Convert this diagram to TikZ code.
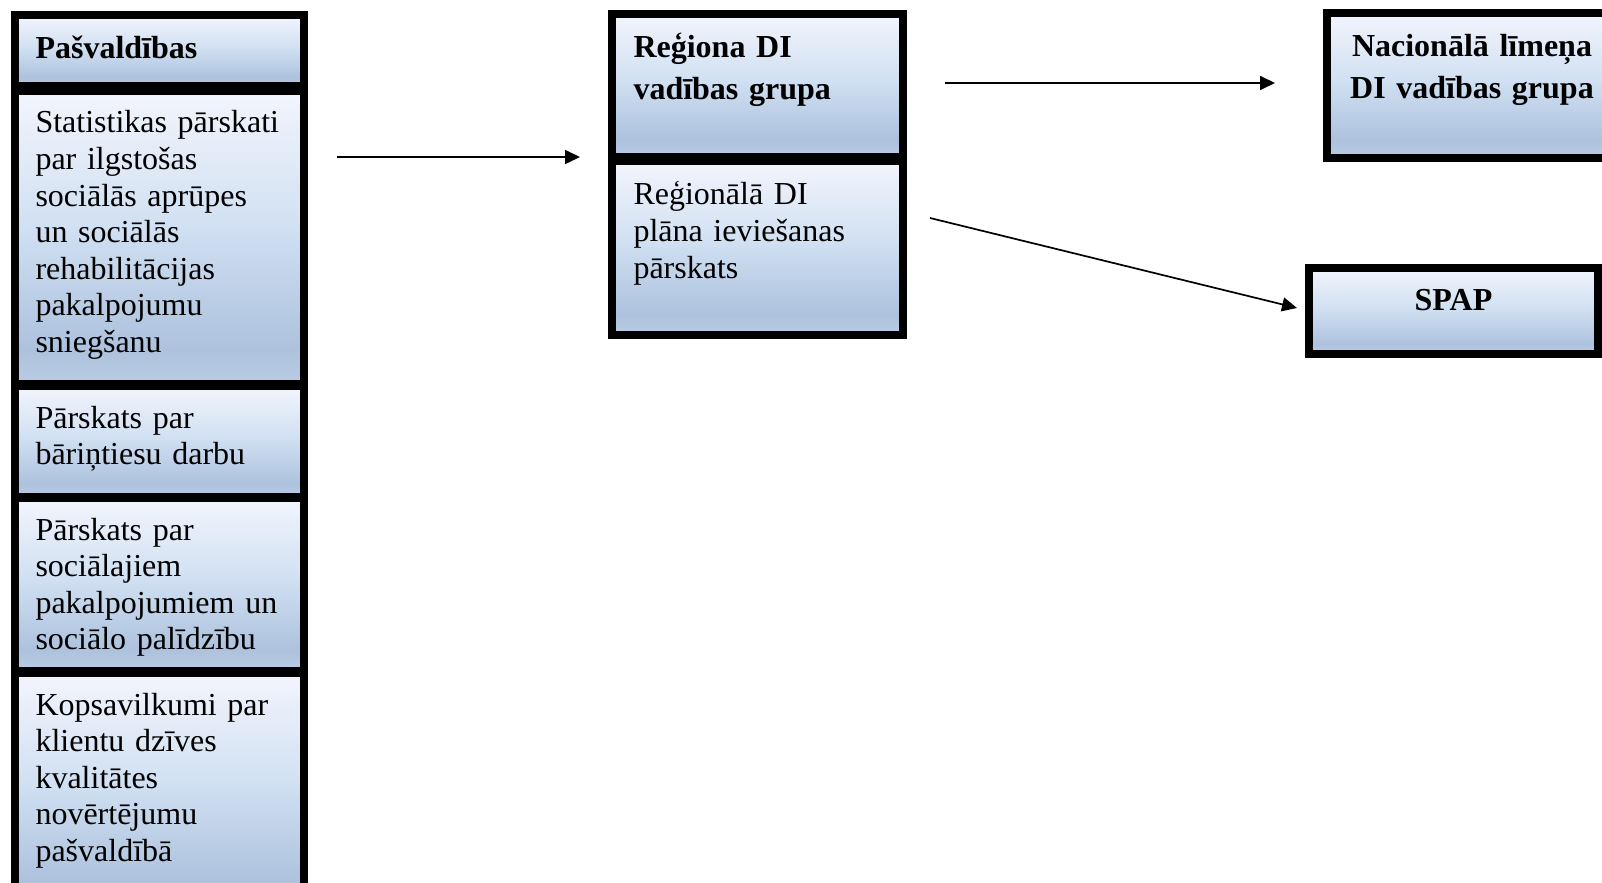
\documentclass[tikz,border=0pt]{standalone}
\usepackage{fontspec}
\setmainfont{Liberation Serif}
\usetikzlibrary{arrows.meta}

% light-to-blue fill of the report boxes (box spans 25bp..75bp)
\pgfdeclareverticalshading{boxfill}{100bp}{%
  rgb(0bp)=(0.73,0.80,0.89);
  rgb(25bp)=(0.73,0.80,0.89);
  rgb(31bp)=(0.68,0.76,0.87);
  rgb(52bp)=(0.82,0.88,0.95);
  rgb(75bp)=(0.95,0.96,0.99);
  rgb(100bp)=(0.95,0.96,0.99)}

\tikzset{
  dibox/.style={rectangle, anchor=north west, draw=black, line width=4pt,
    shade, shading=boxfill, inner xsep=10.25pt, inner ysep=0pt, outer sep=0pt,
    text height=21pt, text width=124pt, align=left,
    font=\fontsize{16pt}{18.3pt}\selectfont},
  headbox/.style={dibox, text height=22pt, font=\fontsize{16pt}{21pt}\selectfont\bfseries},
  flow/.style={line width=0.85pt, -{Triangle[length=7.5pt,width=7pt]}}
}

\begin{document}
\begin{tikzpicture}[x=0.5pt,y=-0.5pt]

% page frame (1 unit = 1 px of the original)
\useasboundingbox (0,0) rectangle (1602,883);
\clip (0,0) rectangle (1602,883);

% municipal reports (left column)
\node[headbox, text depth=13.5pt] (pasv) at (15,15) {Pašvaldības};
\node[dibox, text depth=125.5pt] (stat) at (15,91)
  {Statistikas pārskati\\par ilgstošas\\sociālās aprūpes\\un sociālās\\rehabilitācijas\\pakalpojumu\\sniegšanu};
\node[dibox, text depth=34.5pt] (bar) at (15,386)
  {Pārskats par\\bāriņtiesu darbu};
\node[dibox, text depth=65.5pt] (soc) at (15,498)
  {Pārskats par\\sociālajiem\\pakalpojumiem un\\sociālo palīdzību};
\node[dibox, text depth=97.5pt] (kops) at (15,673)
  {Kopsavilkumi par\\klientu dzīves\\kvalitātes\\novērtējumu\\pašvaldībā};

% regional level
\node[headbox, inner xsep=10.75pt, text depth=49.5pt] (reg) at (612,14)
  {Reģiona DI\\vadības grupa};
\node[dibox, inner xsep=10.75pt, text height=22pt, text depth=65pt] (plan) at (612,161)
  {Reģionālā DI\\plāna ieviešanas\\pārskats};

% national level
\node[headbox, text width=126pt, inner xsep=9.5pt, text depth=50.5pt, align=center] (nat) at (1327,13)
  {Nacionālā līmeņa\\DI vadības grupa};
\node[headbox, text height=21pt, text depth=22pt, align=center] (spap) at (1309,268) {SPAP};

% report flows
\draw[flow, shorten <=16.5pt, shorten >=16pt] (stat.east |- reg.south) -- (reg.south west);
\draw[flow, shorten <=21pt, shorten >=26pt] ([yshift=1.25pt]reg.east) -- ([yshift=1.25pt]nat.west);
\draw[flow] ([shift={(13.5pt,15pt)}]plan.east) -- ([shift={(-6pt,1.5pt)}]spap.west);

\end{tikzpicture}
\end{document}
